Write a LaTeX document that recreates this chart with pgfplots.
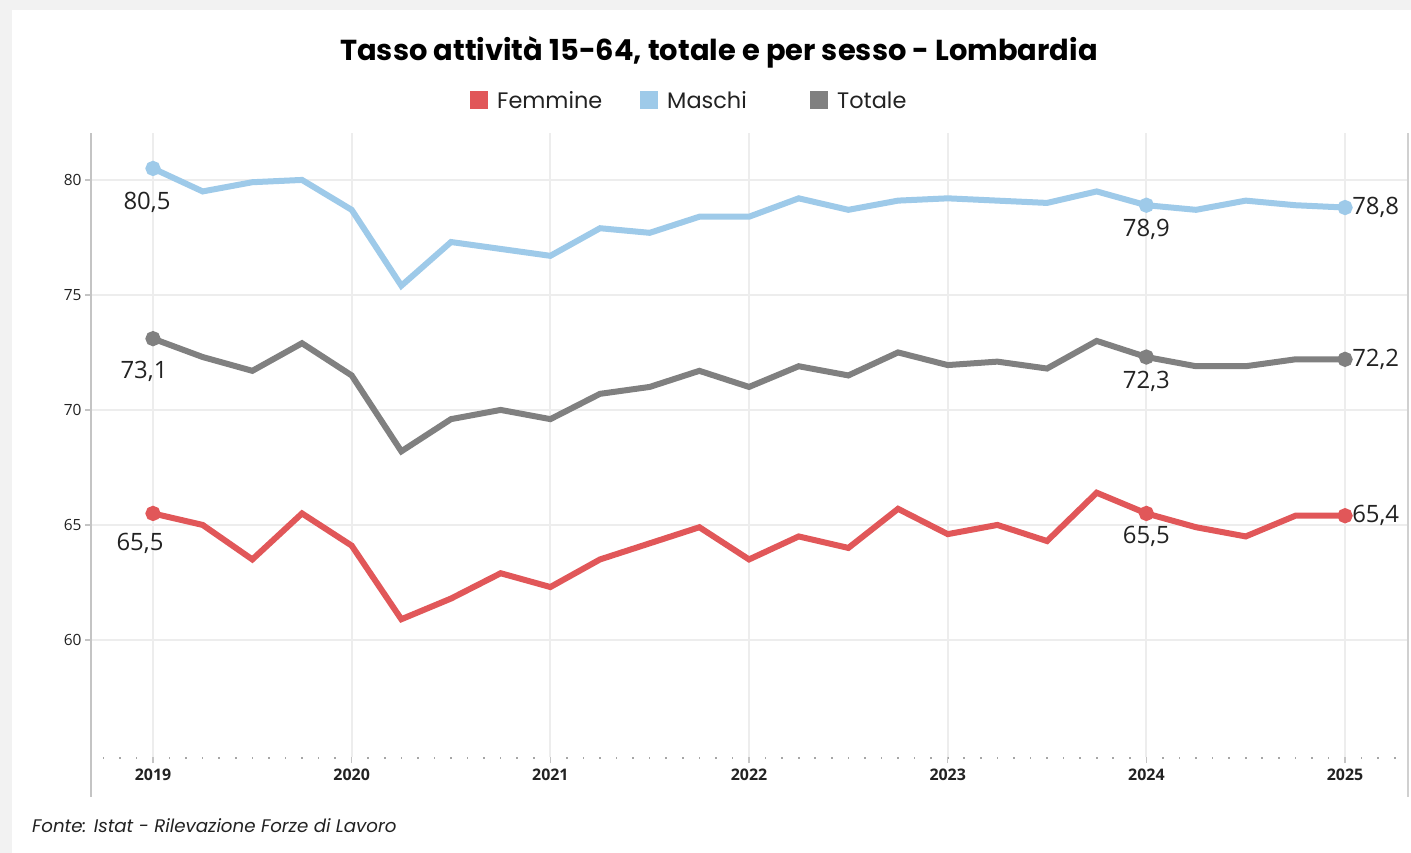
\documentclass[border=0pt]{standalone}
\usepackage{pgfplots}
\pgfplotsset{compat=1.18}
\usepackage{pgfplotstable}
\usepackage{fontspec}
\setmainfont{Poppins}
\newfontfamily\osans{Open Sans}
\definecolor{cF}{HTML}{E15759}
\definecolor{cM}{HTML}{9ECAE9}
\definecolor{cT}{HTML}{808080}
\definecolor{bgc}{HTML}{F2F2F2}
\definecolor{gridc}{HTML}{EDEDED}
\definecolor{axc}{HTML}{C4C4C4}
\definecolor{txt}{HTML}{222222}

% x = months since 2019 Q1
\pgfplotstableread{
x M T F
0 80.5 73.1 65.5
3 79.5 72.3 65.0
6 79.9 71.7 63.5
9 80.0 72.9 65.5
12 78.7 71.5 64.1
15 75.4 68.2 60.9
18 77.3 69.6 61.8
21 77.0 70.0 62.9
24 76.7 69.6 62.3
27 77.9 70.7 63.5
30 77.7 71.0 64.2
33 78.4 71.7 64.9
36 78.4 71.0 63.5
39 79.2 71.9 64.5
42 78.7 71.5 64.0
45 79.1 72.5 65.7
48 79.2 71.95 64.6
51 79.1 72.1 65.0
54 79.0 71.8 64.3
57 79.5 73.0 66.4
60 78.9 72.3 65.5
63 78.7 71.9 64.9
66 79.1 71.9 64.5
69 78.9 72.2 65.4
72 78.8 72.2 65.4
}\data

\begin{document}
\begin{tikzpicture}
% background
\fill[bgc] (0,0) rectangle (1411bp,-853bp);
\fill[white] (12bp,-10bp) rectangle (1411bp,-853bp);
% title
\node[font=\bfseries\fontsize{29}{32}\selectfont, text=black] at (719bp,-52bp) {Tasso attività 15-64, totale e per sesso - Lombardia};
% legend
\fill[cF] (470bp,-91bp) rectangle (488bp,-109bp);
\node[anchor=west, font=\fontsize{22.5}{24}\selectfont, text=txt, inner sep=0pt] at (497bp,-100bp) {Femmine};
\fill[cM] (640bp,-91bp) rectangle (658bp,-109bp);
\node[anchor=west, font=\fontsize{22.5}{24}\selectfont, text=txt, inner sep=0pt] at (667bp,-100bp) {Maschi};
\fill[cT] (810bp,-91bp) rectangle (828bp,-109bp);
\node[anchor=west, font=\fontsize{22.5}{24}\selectfont, text=txt, inner sep=0pt] at (837bp,-100bp) {Totale};
% footer
\node[anchor=west, font=\itshape\fontsize{18.3}{20}\selectfont, text=txt, inner sep=0pt] at (32bp,-826bp) {Fonte: Istat - Rilevazione Forze di Lavoro};

\begin{axis}[
  at={(91bp,-757bp)}, anchor=south west,
  scale only axis, width=1317bp, height=624bp,
  xmin=-3.745, xmax=75.805, ymin=54.91, ymax=82.04,
  axis x line*=bottom, axis y line*=left,
  x axis line style={draw=none, -}, y axis line style={draw=axc, line width=2bp, -},
  xtick={0,12,24,36,48,60,72},
  xticklabels={2019,2020,2021,2022,2023,2024,2025},
  minor xtick={-3,-2,...,75},
  ytick={60,65,70,75,80},
  yticklabels={60,65,70,75,80},
  grid=major, major grid style={draw=gridc, line width=2bp},
  minor grid style={draw=none},
  tick align=outside, major tick length=6bp, minor tick length=1.5bp,
  major tick style={draw=axc, line width=1.3bp},
  minor tick style={draw=gray!70, line width=1.6bp},
  xticklabel style={font=\osans\bfseries\fontsize{16}{16}\selectfont, text=txt, yshift=-2bp},
  yticklabel style={font=\osans\fontsize{15.5}{16}\selectfont, text=txt},
  clip=false,
]
\addplot[cM, line width=6bp, mark=*, mark indices={1,21,25}, mark size=4.5bp, mark options={fill=cM, draw=none}] table[x=x, y=M] {\data};
\addplot[cT, line width=6bp, mark=*, mark indices={1,21,25}, mark size=4.5bp, mark options={fill=cT, draw=none}] table[x=x, y=T] {\data};
\addplot[cF, line width=6bp, mark=*, mark indices={1,21,25}, mark size=4.5bp, mark options={fill=cF, draw=none}] table[x=x, y=F] {\data};

\draw[axc, line width=2bp] (rel axis cs:0,0) -- (rel axis cs:0,-0.0641);
\draw[axc!80, line width=1.5bp] (rel axis cs:1,1) -- (rel axis cs:1,-0.0641);

\tikzset{vl/.style={font=\osans\fontsize{24}{24}\selectfont, text=txt, inner sep=0pt}}
\node[vl, anchor=north] at (axis cs:0,80.5) [xshift=-6bp, yshift=-24bp] {80,5};
\node[vl, anchor=north] at (axis cs:0,73.1) [xshift=-9bp, yshift=-22bp] {73,1};
\node[vl, anchor=north] at (axis cs:0,65.5) [xshift=-13bp, yshift=-20bp] {65,5};
\node[vl, anchor=north] at (axis cs:60,78.9) [yshift=-14bp] {78,9};
\node[vl, anchor=north] at (axis cs:60,72.3) [yshift=-14bp] {72,3};
\node[vl, anchor=north] at (axis cs:60,65.5) [yshift=-13bp] {65,5};
\node[vl, anchor=west] at (axis cs:72,78.8) [xshift=7bp] {78,8};
\node[vl, anchor=west] at (axis cs:72,72.2) [xshift=7bp] {72,2};
\node[vl, anchor=west] at (axis cs:72,65.4) [xshift=7bp] {65,4};
\end{axis}
\end{tikzpicture}
\end{document}
